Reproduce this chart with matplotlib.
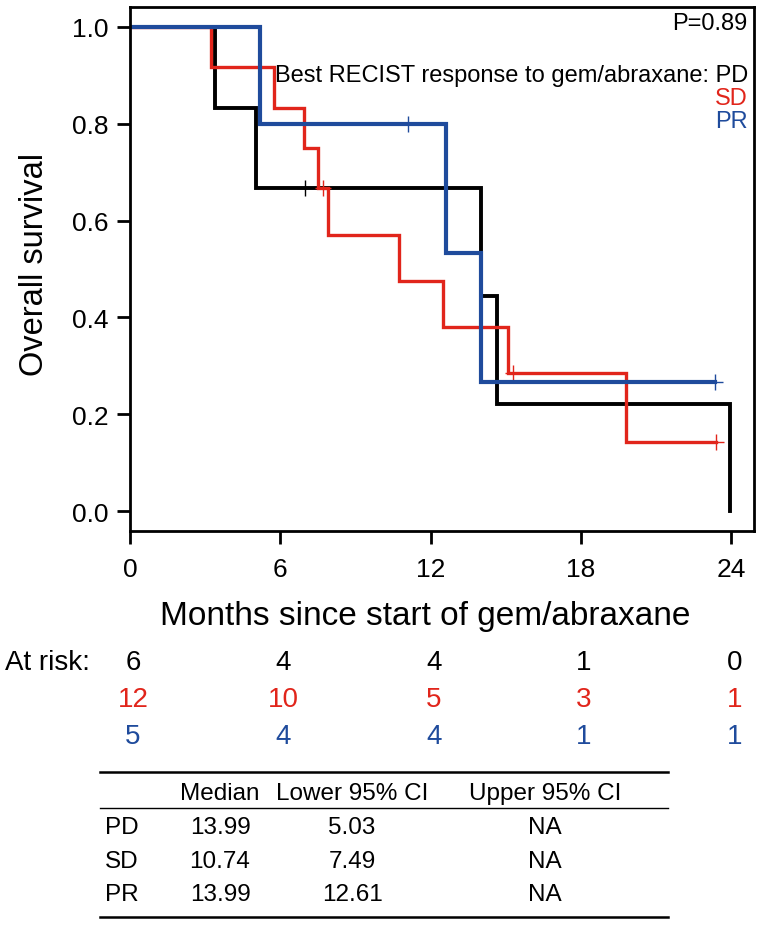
import numpy as np
import matplotlib
matplotlib.use("Agg")
import matplotlib.pyplot as plt

plt.rcParams['font.family'] = ['Liberation Sans', 'DejaVu Sans']

# step curves (time of each step, survival after the step)
pd_times = [0, 3.40, 5.03, 13.99, 14.65, 23.93]
pd_surv = [1.0, 0.833, 0.667, 0.444, 0.222, 0.0]
pd_cens_t = [7.0]
pd_cens_s = [0.667]

sd_times = [0, 3.25, 5.75, 6.93, 7.49, 7.89, 10.74, 12.50, 15.10, 19.80, 23.40]
sd_surv = [1.0, 0.917, 0.833, 0.750, 0.667, 0.571, 0.476, 0.381, 0.286, 0.143, 0.143]
sd_cens_t = [7.69, 15.30, 23.40]
sd_cens_s = [0.667, 0.286, 0.143]

pr_times = [0, 5.20, 12.61, 13.99, 23.35]
pr_surv = [1.0, 0.8, 0.533, 0.267, 0.267]
pr_cens_t = [11.10, 23.35]
pr_cens_s = [0.8, 0.267]

risk_months = [0, 6, 12, 18, 24]
risk_pd = [6, 4, 4, 1, 0]
risk_sd = [12, 10, 5, 3, 1]
risk_pr = [5, 4, 4, 1, 1]

tbl_cols = ["Median", "Lower 95% CI", "Upper 95% CI"]
tbl_rows = ["PD", "SD", "PR"]
tbl_median = ["13.99", "10.74", "13.99"]
tbl_lower = ["5.03", "7.49", "12.61"]
tbl_upper = ["NA", "NA", "NA"]

BLACK = "#000000"
RED = "#e1251b"
BLUE = "#1f4b9c"

W, H = 760, 928
fig = plt.figure(figsize=(W / 100, H / 100), dpi=100)


def fx(px):
    return px / W


def fy(py):
    return 1 - py / H


ax = fig.add_axes([fx(130), fy(532), fx(754) - fx(130), fy(8) - fy(532)])

groups = [
    (pd_times, pd_surv, pd_cens_t, pd_cens_s, BLACK, 2.8),
    (sd_times, sd_surv, sd_cens_t, sd_cens_s, RED, 2.4),
    (pr_times, pr_surv, pr_cens_t, pr_cens_s, BLUE, 3.0),
]
for t, s, ct, cs, col, lw in groups:
    ax.step(t, s, where='post', color=col, lw=lw, solid_joinstyle='miter')
    ax.plot(ct, cs, ls='none', marker='+', ms=11, mew=1.0, color=col)

ax.set_xlim(0, 24.9)
ax.set_ylim(-0.041, 1.041)
ax.set_xticks(risk_months)
ax.set_yticks([0, 0.2, 0.4, 0.6, 0.8, 1.0])
ax.set_yticklabels(["0.0", "0.2", "0.4", "0.6", "0.8", "1.0"])
ax.tick_params(axis='both', length=9.5, width=2.0, labelsize=19)
ax.tick_params(axis='x', pad=9)
ax.tick_params(axis='y', pad=6)
for sp in ax.spines.values():
    sp.set_linewidth(2.0)

fig.text(fx(35), fy(265), "Overall survival", rotation=90, fontsize=23.5,
         ha='center', va='center')
fig.text(fx(425), fy(617), "Months since start of gem/abraxane", fontsize=24,
         ha='center', va='center')

# P value and legend text inside the plot
fig.text(fx(747), fy(24), "P=0.89", fontsize=17, ha='right', va='center')
fig.text(fx(748), fy(76), "Best RECIST response to gem/abraxane: PD",
         fontsize=17, ha='right', va='center', color=BLACK)
fig.text(fx(748), fy(99), "SD", fontsize=17, ha='right', va='center', color=RED)
fig.text(fx(748), fy(122), "PR", fontsize=17, ha='right', va='center', color=BLUE)

# numbers at risk
fig.text(fx(5), fy(663), "At risk:", fontsize=20, ha='left', va='center')
for row_y, vals, col in [(663, risk_pd, BLACK), (700, risk_sd, RED), (737, risk_pr, BLUE)]:
    for m, v in zip(risk_months, vals):
        xp = ax.transData.transform((m, 0))[0]
        fig.text(xp / W + 0.004, fy(row_y), str(v), fontsize=20, ha='center',
                 va='center', color=col)

# summary table
x0, x1 = 100, 668
col_x = [220, 352, 545]
fig.add_artist(plt.Line2D([fx(x0), fx(x1)], [fy(773), fy(773)], color='black', lw=1.8))
fig.add_artist(plt.Line2D([fx(x0), fx(x1)], [fy(809), fy(809)], color='black', lw=1.0))
fig.add_artist(plt.Line2D([fx(x0), fx(x1)], [fy(918), fy(918)], color='black', lw=1.8))
for cx, name in zip(col_x, tbl_cols):
    fig.text(fx(cx), fy(794), name, fontsize=17.5, ha='center', va='center')
for i, ry in enumerate([828, 862, 895]):
    fig.text(fx(105), fy(ry), tbl_rows[i], fontsize=17.5, ha='left', va='center')
    fig.text(fx(col_x[0]), fy(ry), tbl_median[i], fontsize=17.5, ha='center', va='center')
    fig.text(fx(col_x[1]), fy(ry), tbl_lower[i], fontsize=17.5, ha='center', va='center')
    fig.text(fx(col_x[2]), fy(ry), tbl_upper[i], fontsize=17.5, ha='center', va='center')

fig.savefig("out.png", dpi=100)
